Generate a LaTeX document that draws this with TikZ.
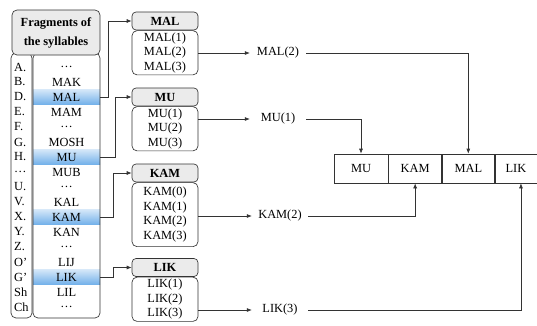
\documentclass[tikz,border=0pt]{standalone}
\usepackage{fontspec}
\setmainfont{Liberation Serif}
\usepackage{xcolor}
\usepackage{tikz}
\usetikzlibrary{arrows.meta, positioning}
\definecolor{lineg}{HTML}{333333}
\definecolor{hdrbg}{HTML}{EBEBEB}
\definecolor{hlblue}{HTML}{72B0EA}

\begin{document}
\begin{tikzpicture}[
    x=1pt, y=-1pt,
    font=\fontsize{12.4}{14.5}\selectfont,
    col/.style={draw=lineg, rounded corners=5pt, line width=0.65pt, inner sep=0pt},
    row/.style={minimum width=67pt, minimum height=15pt, inner sep=0pt},
    hl/.style={row, top color=hlblue!30, bottom color=hlblue},
    ltr/.style={minimum height=15pt, inner sep=0pt, anchor=west},
    hbox/.style={draw=lineg, fill=hdrbg, rounded corners=4pt, line width=0.65pt,
                 minimum width=66pt, minimum height=18pt, inner sep=0pt,
                 font=\fontsize{12.4}{14.5}\selectfont\bfseries},
    bbox/.style={draw=lineg, rounded corners=5pt, line width=0.65pt,
                 minimum width=66pt, inner ysep=2pt, align=center},
    cell/.style={draw=lineg, line width=0.65pt, minimum height=29pt, inner sep=0pt},
    lbl/.style={minimum width=56pt, inner sep=0pt},
    ar/.style={-{Latex[length=5pt,width=4pt]}, lineg, line width=0.65pt}
  ]
  \useasboundingbox (0,0) rectangle (537,325);
  % fragment list
  \foreach \l/\s/\st [count=\i] in {A./\dots/row, B./MAK/row, D./MAL/hl, E./MAM/row,
      F./\dots/row, G./MOSH/row, H./MU/hl, \dots/MUB/row, U./\dots/row, V./KAL/row,
      X./KAM/hl, Y./KAN/row, Z./\dots/row, O'/LIJ/row, G'/LIK/hl, Sh/LIL/row, Ch/\dots/row}{
    \node[ltr] (l\i) at (14,52+15*\i) {\l};
    \node[\st] (s\i) at (66.5,52+15*\i) {\s};
  }
  \node[col, minimum width=21pt, minimum height=265pt] (lcol) at (21.5,185.5) {};
  \node[col, minimum width=67pt, minimum height=265pt] (scol) at (66.5,185.5) {};
  \node[col, fill=hdrbg, minimum width=88pt, minimum height=45pt, align=center,
        font=\fontsize{12.4}{19}\selectfont\bfseries] (hdr) at (56,32.5) {Fragments of\\the syllables};
  % syllable boxes
  \node[hbox] (malh) at (165,21) {MAL};
  \node[bbox, below=0pt of malh] (malb) {MAL(1)\\MAL(2)\\MAL(3)};
  \node[hbox] (muh) at (165,97) {MU};
  \node[bbox, below=0pt of muh] (mub) {MU(1)\\MU(2)\\MU(3)};
  \node[hbox] (kamh) at (165,173) {KAM};
  \node[bbox, below=0pt of kamh, minimum height=64pt] (kamb) {KAM(0)\\KAM(1)\\KAM(2)\\KAM(3)};
  \node[hbox] (likh) at (165,267.5) {LIK};
  \node[bbox, below=0pt of likh] (likb) {LIK(1)\\LIK(2)\\LIK(3)};
  \draw[ar] (s3.east) -- ++(8,0) |- (malh.west);
  \draw[ar] (s7.east) -- ++(15,0) |- (muh.west);
  \draw[ar] (s11.east) -- ++(13,0) |- (kamh.west);
  \draw[ar] (s15.east) -- ++(13,0) |- (likh.west);
  % chosen fragments
  \node[lbl] (mal2) at (278,53) {MAL(2)};
  \node[lbl] (mu1) at (278,119) {MU(1)};
  \node[lbl] (kam2) at (280,216) {KAM(2)};
  \node[lbl] (lik3) at (280,310) {LIK(3)};
  \draw[ar] (malb.east |- mal2) -- (mal2.west);
  \draw[ar] (mub.east |- mu1) -- (mu1.west);
  \draw[ar] (kamb.east |- kam2) -- (kam2.west);
  \draw[ar] (likb.east |- lik3) -- (lik3.west);
  % word
  \node[cell, minimum width=54pt] (cmu) at (361,168.5) {MU};
  \node[cell, minimum width=53pt, right=0pt of cmu] (ckam) {KAM};
  \node[cell, minimum width=52pt, right=0pt of ckam] (cmal) {MAL};
  \node[cell, minimum width=42pt, right=0pt of cmal] (clik) {LIK};
  \draw[ar] (mal2.east) -| (cmal.north);
  \draw[ar] (mu1.east) -| (cmu.north);
  \draw[ar] (kam2.east) -| (ckam.south);
  \draw[ar] (lik3.east) -| ([xshift=5pt]clik.south);
\end{tikzpicture}
\end{document}
